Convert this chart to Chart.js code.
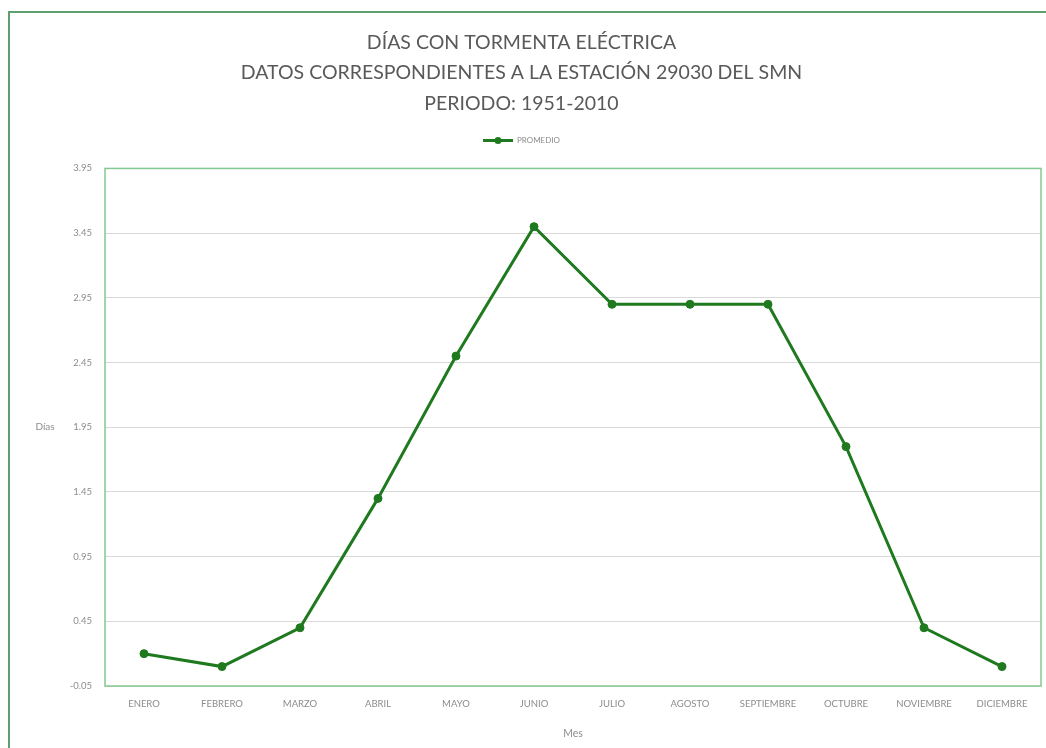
<!DOCTYPE html>
<html>
<head>
<meta charset="utf-8">
<script src="https://cdn.jsdelivr.net/npm/chart.js@4/dist/chart.umd.min.js"></script>
<style>
  html, body { margin: 0; padding: 0; background: #ffffff; }
  #wrap { width: 1046px; height: 748px; position: relative; }
</style>
</head>
<body>
<div id="wrap"><canvas id="c" width="1046" height="748"></canvas></div>
<script>
// Monthly average of thunderstorm days, station 29030 (SMN), 1951-2010
const meses = ['ENERO', 'FEBRERO', 'MARZO', 'ABRIL', 'MAYO', 'JUNIO', 'JULIO',
               'AGOSTO', 'SEPTIEMBRE', 'OCTUBRE', 'NOVIEMBRE', 'DICIEMBRE'];
const promedio = [0.2, 0.1, 0.4, 1.4, 2.5, 3.5, 2.9, 2.9, 2.9, 1.8, 0.4, 0.1];
const yTicks = [-0.05, 0.45, 0.95, 1.45, 1.95, 2.45, 2.95, 3.45, 3.95];
const titulo = ['DÍAS CON TORMENTA ELÉCTRICA',
                'DATOS CORRESPONDIENTES A LA ESTACIÓN 29030 DEL SMN',
                'PERIODO: 1951-2010'];

const verde = '#1f7a1f';
const FONT = 'Lato, "Open Sans", sans-serif';

// Outer frame, plot frame, horizontal "Días" label and legend marker dot
const decor = {
  id: 'decor',
  beforeUpdate(chart) {
    // leave a gap between the legend and the plot area
    const lg = chart.legend;
    if (lg && !lg._gapAdded) {
      const fit = lg.fit.bind(lg);
      lg.fit = function () { fit(); this.height += 14; };
      lg._gapAdded = true;
    }
  },
  beforeDraw(chart) {
    const ctx = chart.ctx;
    ctx.save();
    ctx.fillStyle = '#ffffff';
    ctx.fillRect(0, 0, chart.width, chart.height);
    ctx.strokeStyle = '#5f9f6f';
    ctx.lineWidth = 2;
    ctx.strokeRect(9, 12, chart.width + 20, chart.height + 20);
    ctx.restore();
  },
  beforeDatasetsDraw(chart) {
    const { ctx, chartArea: a } = chart;
    ctx.save();
    ctx.strokeStyle = '#86c78f';
    ctx.lineWidth = 1.5;
    ctx.strokeRect(a.left, a.top, a.right - a.left, a.bottom - a.top);
    ctx.fillStyle = '#8c8c8c';
    ctx.font = '10px ' + FONT;
    ctx.textAlign = 'center';
    ctx.textBaseline = 'middle';
    ctx.fillText('Días', 45, (a.top + a.bottom) / 2);
    ctx.restore();
  },
  afterDraw(chart) {
    const lg = chart.legend;
    if (!lg || !lg.legendHitBoxes || !lg.legendHitBoxes.length) return;
    const hb = lg.legendHitBoxes[0];
    const bw = lg.options.labels.boxWidth;
    const ctx = chart.ctx;
    ctx.save();
    ctx.fillStyle = verde;
    ctx.beginPath();
    ctx.arc(hb.left + bw / 2, hb.top + hb.height / 2, 3.5, 0, Math.PI * 2);
    ctx.fill();
    ctx.restore();
  }
};

new Chart(document.getElementById('c'), {
  type: 'line',
  data: {
    labels: meses,
    datasets: [{
      label: 'PROMEDIO',
      data: promedio,
      borderColor: verde,
      backgroundColor: verde,
      borderWidth: 3,
      pointRadius: 4,
      pointBackgroundColor: verde,
      pointBorderColor: verde,
      pointBorderWidth: 1,
      tension: 0,
      fill: false
    }]
  },
  plugins: [decor],
  options: {
    responsive: false,
    animation: false,
    devicePixelRatio: 1,
    layout: { padding: { top: 27, right: 3, bottom: 8, left: 0 } },
    plugins: {
      title: {
        display: true,
        text: titulo,
        color: '#595959',
        font: { family: FONT, size: 19.5, weight: 'normal', lineHeight: 1.58 },
        padding: { top: 0, bottom: 9 }
      },
      legend: {
        display: true,
        labels: {
          color: '#8c8c8c',
          font: { family: FONT, size: 8 },
          boxWidth: 30,
          boxHeight: 3,
          padding: 8,
          generateLabels(chart) {
            return [{
              text: 'PROMEDIO',
              fillStyle: verde,
              strokeStyle: verde,
              lineWidth: 0,
              fontColor: '#8c8c8c',
              datasetIndex: 0,
              hidden: false
            }];
          }
        }
      },
      tooltip: { enabled: false }
    },
    scales: {
      x: {
        offset: true,
        grid: { display: false, drawTicks: false, offset: true },
        border: { display: false },
        ticks: {
          color: '#8c8c8c',
          font: { family: FONT, size: 9.5 },
          padding: 12,
          maxRotation: 0,
          autoSkip: false
        },
        title: {
          display: true,
          text: 'Mes',
          color: '#8c8c8c',
          font: { family: FONT, size: 10.5 },
          padding: { top: 2, bottom: 0 }
        },
        afterFit(s) { s.height = 54; }
      },
      y: {
        min: -0.05,
        max: 3.95,
        grid: { color: '#d9d9d9', lineWidth: 1, drawTicks: false },
        border: { display: false },
        afterBuildTicks(s) { s.ticks = yTicks.map(v => ({ value: v })); },
        ticks: {
          color: '#8c8c8c',
          font: { family: FONT, size: 9.5 },
          padding: 13,
          callback: v => v.toFixed(2)
        },
        afterFit(s) { s.width = 105; }
      }
    }
  }
});
</script>
</body>
</html>
